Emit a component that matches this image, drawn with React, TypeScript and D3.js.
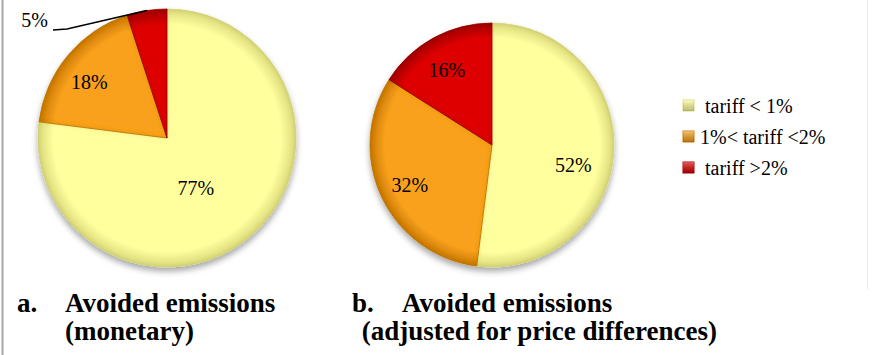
import React from "react";
import * as d3 from "d3";

// Tariff bands shared by both pies
const categories = ["tariff < 1%", "1%< tariff <2%", "tariff >2%"];
const legendLabels = [" tariff < 1%", "1%< tariff <2%", " tariff >2%"];

// Share of avoided emissions per tariff band (%)
const monetaryShares = [77, 18, 5];
const priceAdjustedShares = [52, 32, 16];

const panelTitles = [
  ["a.", "Avoided emissions", "(monetary)"],
  ["b.", "Avoided emissions", " (adjusted for price differences)"],
];

const W = 882;
const H = 355;

const sliceColors = ["#FFFF9E", "#F9A11B", "#DE0000"];
const edgeColors = ["#DADA7A", "#C9780A", "#A00000"];
const FONT = '"Liberation Serif", "Times New Roman", Times, serif';

type PieSpec = {
  id: string;
  values: number[];
  cx: number;
  cy: number;
  r: number;
  nudges: [number, number][];
  leader?: number;
};

const pies: PieSpec[] = [
  {
    id: "a",
    values: monetaryShares,
    cx: 167,
    cy: 138,
    r: 129,
    nudges: [[-31, -18], [-8, 2], [0, 0]],
    leader: 2,
  },
  {
    id: "b",
    values: priceAdjustedShares,
    cx: 492,
    cy: 145,
    r: 122,
    nudges: [[-4, 15], [-5, 4], [-4, 0]],
  },
];

function Pie({ spec }: { spec: PieSpec }) {
  const pie = d3
    .pie<number>()
    .sort(null)
    .value((d) => d)
    .startAngle(0)
    .endAngle(2 * Math.PI);
  const arcs = pie(spec.values);
  const arc = d3.arc<d3.PieArcDatum<number>>().innerRadius(0).outerRadius(spec.r);
  const labelArc = d3
    .arc<d3.PieArcDatum<number>>()
    .innerRadius(spec.r * 0.7)
    .outerRadius(spec.r * 0.7);

  return (
    <g transform={`translate(${spec.cx},${spec.cy})`}>
      <defs>
        {sliceColors.map((c, i) => (
          <radialGradient
            key={i}
            id={`grad-${spec.id}-${i}`}
            gradientUnits="userSpaceOnUse"
            cx={0}
            cy={0}
            r={spec.r}
          >
            <stop offset="0%" stopColor={c} />
            <stop offset="88%" stopColor={c} />
            <stop offset="100%" stopColor={edgeColors[i]} />
          </radialGradient>
        ))}
      </defs>
      <g filter="url(#pieShadow)">
        {arcs.map((a, i) => (
          <path
            key={i}
            d={arc(a) || ""}
            fill={`url(#grad-${spec.id}-${i})`}
            stroke={edgeColors[i]}
            strokeWidth={0.8}
            filter="url(#bevel)"
          />
        ))}
      </g>
      {arcs.map((a, i) => {
        if (spec.leader === i) return null;
        const [x, y] = labelArc.centroid(a);
        const [nx, ny] = spec.nudges[i];
        return (
          <text
            key={i}
            x={x + nx}
            y={y + ny}
            dy="0.35em"
            textAnchor="middle"
            style={{ fontFamily: FONT, fontSize: 20 }}
            fill="#000"
          >
            {a.data}%
          </text>
        );
      })}
      {spec.leader !== undefined &&
        (() => {
          const a = arcs[spec.leader];
          const mid = (a.startAngle + a.endAngle) / 2;
          const ex = Math.sin(mid) * spec.r;
          const ey = -Math.cos(mid) * spec.r;
          const lx = 53 - spec.cx;
          const ly = 30 - spec.cy;
          return (
            <g>
              <path
                d={`M${lx},${ly} L${lx + 14},${ly - 1} L${ex},${ey}`}
                fill="none"
                stroke="#000"
                strokeWidth={1.5}
              />
              <text
                x={lx - 5}
                y={ly - 3}
                textAnchor="end"
                style={{ fontFamily: FONT, fontSize: 20 }}
                fill="#000"
              >
                {a.data}%
              </text>
            </g>
          );
        })()}
    </g>
  );
}

export default function App() {
  const legendX = 683;
  const legendY = d3.scalePoint<string>().domain(categories).range([105.5, 167.5]);

  return (
    <svg
      width={W}
      height={H}
      viewBox={`0 0 ${W} ${H}`}
      style={{ position: "absolute", left: 0, top: 0, background: "#fff" }}
    >
      <defs>
        <filter id="bevel" x="-5%" y="-5%" width="110%" height="110%">
          <feGaussianBlur in="SourceAlpha" stdDeviation="2.5" result="blur" />
          <feComposite
            in="SourceAlpha"
            in2="blur"
            operator="arithmetic"
            k1="0"
            k2="1"
            k3="-1"
            k4="0"
            result="edge"
          />
          <feFlood floodColor="#000" floodOpacity="0.25" />
          <feComposite in2="edge" operator="in" result="edgeShade" />
          <feMerge>
            <feMergeNode in="SourceGraphic" />
            <feMergeNode in="edgeShade" />
          </feMerge>
        </filter>
        <filter id="pieShadow" x="-10%" y="-10%" width="120%" height="125%">
          <feDropShadow dx="0" dy="4" stdDeviation="3" floodColor="#000" floodOpacity="0.35" />
        </filter>
        <linearGradient id="legendGrad" x1="0" y1="0" x2="0" y2="1">
          <stop offset="0%" stopColor="#fff" stopOpacity="0.35" />
          <stop offset="100%" stopColor="#000" stopOpacity="0.25" />
        </linearGradient>
      </defs>

      {/* frame lines */}
      <line x1={2.5} y1={0} x2={2.5} y2={H} stroke="#A6A6A6" strokeWidth={2} />
      <line x1={867.5} y1={0} x2={867.5} y2={290} stroke="#EDEDED" strokeWidth={1} />

      {pies.map((p) => (
        <Pie key={p.id} spec={p} />
      ))}

      {/* legend */}
      {categories.map((c, i) => {
        const y = legendY(c) as number;
        return (
          <g key={c}>
            <rect
              x={legendX}
              y={y - 5.5}
              width={11}
              height={11}
              fill={sliceColors[i]}
              stroke={edgeColors[i]}
              strokeWidth={1}
            />
            <rect x={legendX} y={y - 5.5} width={11} height={11} fill="url(#legendGrad)" />
            <text
              x={700}
              y={y}
              dy="0.35em"
              fill="#000"
              style={{ fontFamily: FONT, fontSize: 20, whiteSpace: "pre" }}
            >
              {legendLabels[i]}
            </text>
          </g>
        );
      })}

      {/* panel captions */}
      {panelTitles.map((t, i) => {
        const xs = i === 0 ? [17, 65, 65] : [352, 402, 355];
        const st = { fontFamily: FONT, fontWeight: 700, fontSize: 27, whiteSpace: "pre" as const };
        return (
          <g key={i} fill="#000">
            <text x={xs[0]} y={312} style={st}>{t[0]}</text>
            <text x={xs[1]} y={312} style={st}>{t[1]}</text>
            <text x={xs[2]} y={340} style={st}>{t[2]}</text>
          </g>
        );
      })}
    </svg>
  );
}
